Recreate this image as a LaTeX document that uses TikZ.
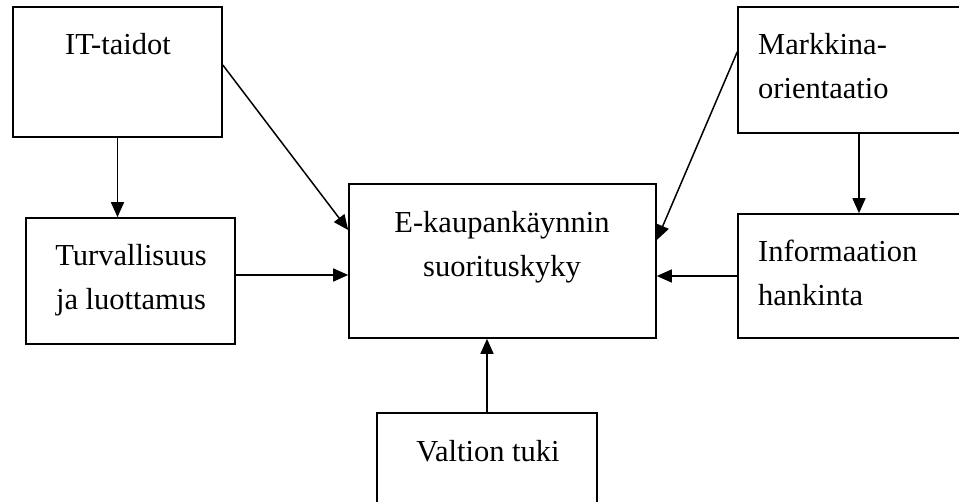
\documentclass[tikz,border=0pt]{standalone}
\usepackage{fontspec}
\setmainfont{Liberation Serif}
\usetikzlibrary{arrows.meta, positioning}

\begin{document}
\begin{tikzpicture}[
  x=1pt, y=-1pt,
  box/.style={draw, line width=1.6pt, inner sep=0pt},
  txt/.style={inner sep=0pt, font=\fontsize{30.5}{44}\selectfont},
  every edge/.style={draw, line width=1.5pt, -{Triangle[length=15pt, width=13pt]}}
]
  \useasboundingbox (0,0) rectangle (959,502);
  \clip (0,0) rectangle (959,502);
  \node[box, minimum width=209pt, minimum height=130pt] (it) at (117.5,72) {};
  \node[box, minimum width=209pt, minimum height=126pt] (turv) at (130.5,281) {};
  \node[box, minimum width=307pt, minimum height=154pt] (ekaup) at (502.5,261) {};
  \node[box, minimum width=220pt, minimum height=127pt] (valtio) at (487,476.5) {};
  \node[box, minimum width=242pt, minimum height=126pt] (markk) at (859,70) {};
  \node[box, minimum width=242pt, minimum height=124pt] (info) at (859,276) {};
  % texts (base = last line)
  \node[txt, anchor=base] (ittxt) at (118,55) {IT-taidot};
  \node[txt, anchor=base, align=center] (turvtxt) at (131,310) {Turvallisuus\\ja luottamus};
  \node[txt, anchor=base, align=center] (ekauptxt) at (502,277) {E-kaupankäynnin\\suorituskyky};
  \node[txt, anchor=base] (valtiotxt) at (488,462) {Valtion tuki};
  \node[txt, anchor=base west, align=left] (markktxt) at (758,99) {Markkina-\\orientaatio};
  \node[txt, anchor=base west, align=left] (infotxt) at (758,306) {Informaation\\hankinta};
  % arrows
  \draw (it.south) edge (it.south |- turv.north);
  \draw ([yshift=7pt]it.east) edge ([yshift=31pt]ekaup.west);
  \draw ([yshift=6pt]turv.east) edge ([yshift=6pt]turv.east -| ekaup.west);
  \draw (valtio.north) edge (valtio.north |- ekaup.south);
  \draw (markk.south) edge (markk.south |- info.north);
  \draw ([yshift=18pt]markk.west) edge ([yshift=21pt]ekaup.east);
  \draw (info.west) edge (info.west -| ekaup.east);
\end{tikzpicture}
\end{document}
